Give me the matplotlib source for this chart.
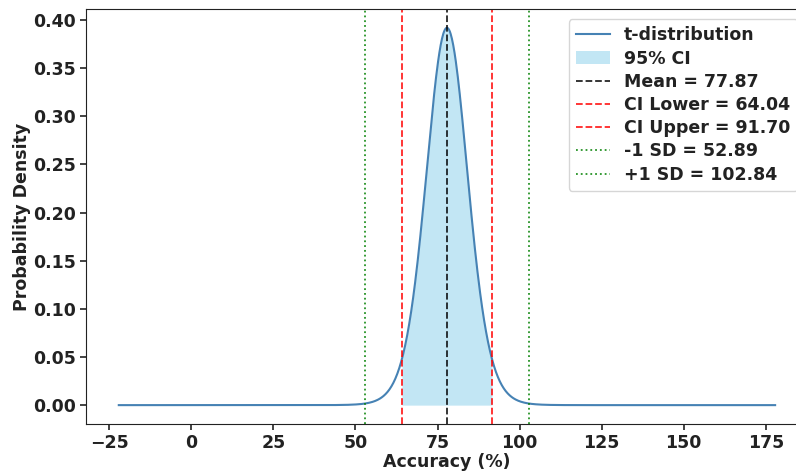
import math
import numpy as np
import matplotlib
matplotlib.use("Agg")
import matplotlib.pyplot as plt

# summary stats for the accuracy runs
mean_acc = 77.87
sd_acc = 24.975
n_runs = 15
ci_lower = 64.04
ci_upper = 91.70
sd_lower = 52.89
sd_upper = 102.84

dof = n_runs - 1
se = sd_acc / math.sqrt(n_runs)


def t_pdf(t, df):
    c = math.gamma((df + 1) / 2) / (math.sqrt(df * math.pi) * math.gamma(df / 2))
    return c * (1 + t ** 2 / df) ** (-(df + 1) / 2)


plt.rcParams['font.family'] = 'DejaVu Sans'
plt.rcParams['font.weight'] = 'bold'
plt.rcParams['axes.labelweight'] = 'bold'
plt.rcParams['text.color'] = '#222222'
plt.rcParams['axes.labelcolor'] = '#222222'
plt.rcParams['xtick.color'] = '#222222'
plt.rcParams['ytick.color'] = '#222222'
plt.rcParams['axes.edgecolor'] = '#222222'

fs = 12.5

fig = plt.figure(figsize=(7.96, 4.72), dpi=100)
ax = fig.add_axes([0.108, 0.1017, 0.907, 0.8793])

x = np.linspace(mean_acc - 100, mean_acc + 100, 1000)
y = t_pdf((x - mean_acc) / se, dof)

ax.plot(x, y, color='#4682b4', lw=1.5, label='t-distribution')
mask = (x >= ci_lower) & (x <= ci_upper)
ax.fill_between(x[mask], y[mask], color='skyblue', alpha=0.5, lw=0, label='95% CI')

vl = dict(lw=1.3, alpha=0.85)
ax.axvline(mean_acc, color='black', ls='--', label=f'Mean = {mean_acc:.2f}', **vl)
ax.axvline(ci_lower, color='red', ls='--', label=f'CI Lower = {ci_lower:.2f}', **vl)
ax.axvline(ci_upper, color='red', ls='--', label=f'CI Upper = {ci_upper:.2f}', **vl)
ax.axvline(sd_lower, color='green', ls=':', label=f'-1 SD = {sd_lower:.2f}', **vl)
ax.axvline(sd_upper, color='green', ls=':', label=f'+1 SD = {sd_upper:.2f}', **vl)

ax.set_xlabel('Accuracy (%)', fontsize=fs, fontweight='bold', labelpad=1)
ax.set_ylabel('Probability Density', fontsize=fs, fontweight='bold', labelpad=2)
ax.tick_params(labelsize=fs, width=1.2, length=4, pad=3)
for lab in ax.get_xticklabels() + ax.get_yticklabels():
    lab.set_fontweight('bold')
ax.set_yticks(np.arange(0, 0.41, 0.05))
ax.set_xticks(np.arange(-25, 176, 25))

leg = ax.legend(loc='upper right', prop={'weight': 'bold', 'size': fs},
                labelspacing=0.3, handlelength=2.0, handletextpad=0.8,
                borderaxespad=0.6)
leg.get_frame().set_edgecolor('#cccccc')

fig.savefig('out.png', dpi=100)
